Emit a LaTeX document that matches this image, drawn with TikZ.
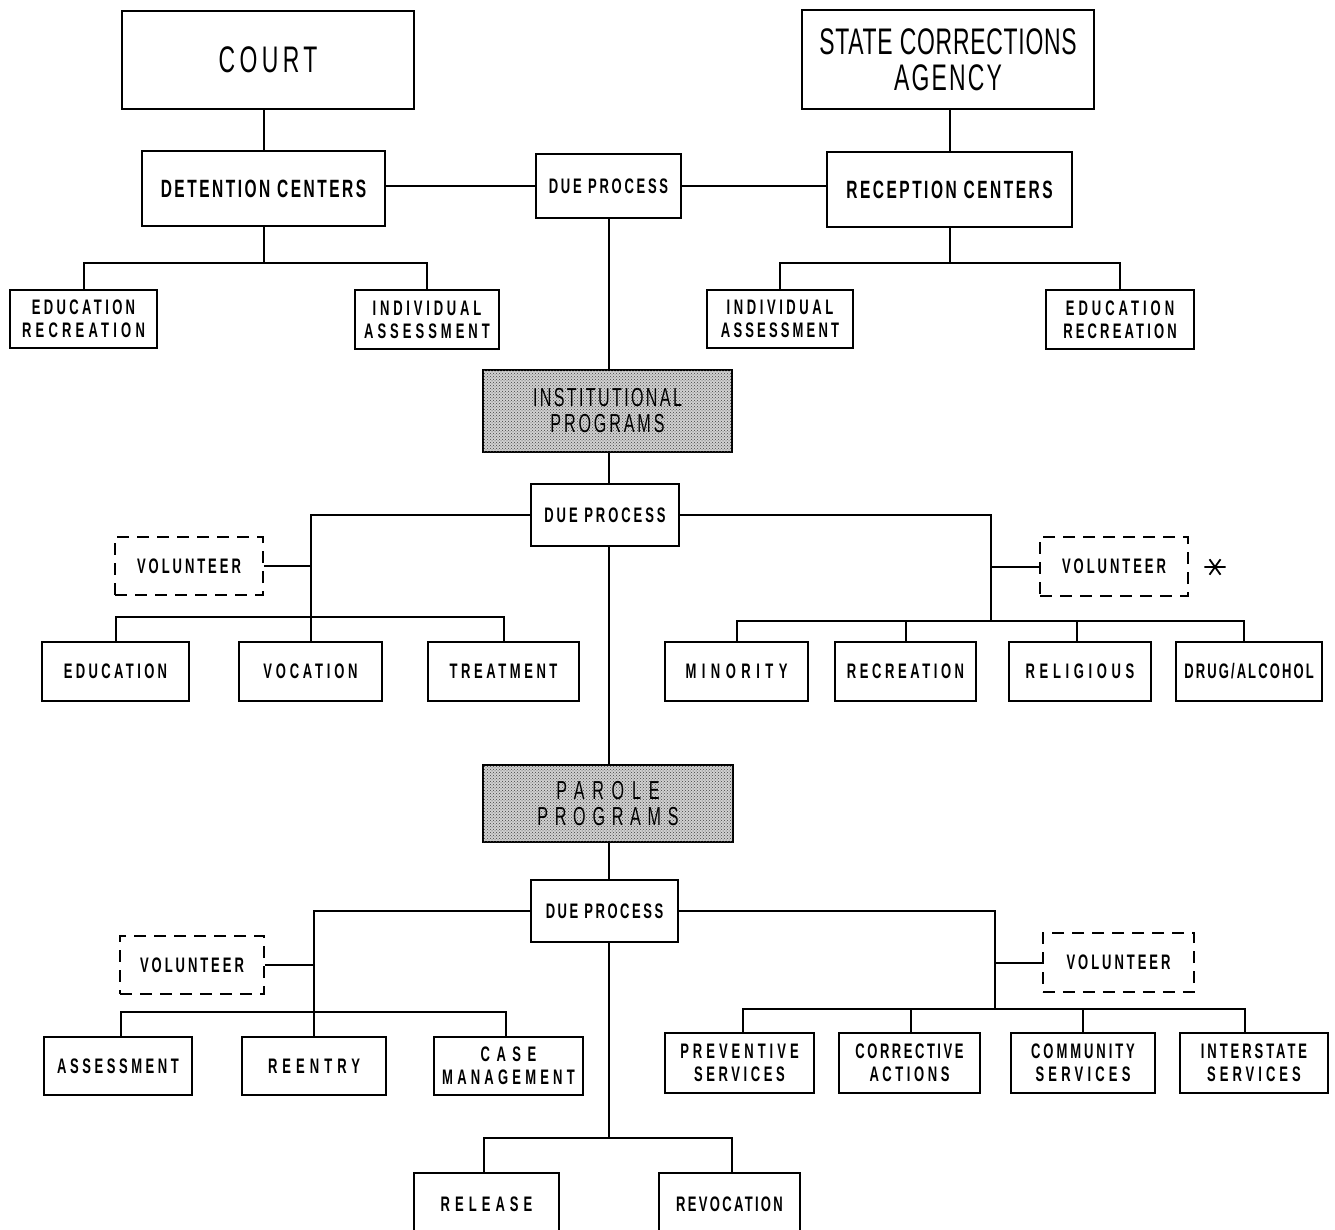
\documentclass[tikz,border=0pt]{standalone}
\usepackage{fontspec}
\usetikzlibrary{patterns}
% condensed lettering for all labels
\newfontfamily\labfont[FakeStretch=0.62]{Liberation Sans}
\newcommand\lsp[1]{\addfontfeature{LetterSpace=#1}}

\tikzset{
  box/.style={draw, line width=2.3pt, inner sep=0pt, align=center},
  bigtext/.style={font=\labfont\fontsize{37}{36}\selectfont},
  midtext/.style={font=\labfont\bfseries\fontsize{25}{26}\selectfont},
  smalltext/.style={font=\labfont\bfseries\fontsize{21}{23}\selectfont},
  shadetext/.style={font=\labfont\fontsize{26}{26}\selectfont},
  unit/.style={box, smalltext, minimum width=#1},
  volbox/.style={box, smalltext, dash pattern=on 12pt off 8pt, minimum width=#1},
  shadebox/.style={box, shadetext, fill=black!18,
    postaction={pattern=crosshatch dots, pattern color=black!75}},
  conn/.style={line width=2pt},
}

\begin{document}
\begin{tikzpicture}[x=1pt, y=-1pt]
\useasboundingbox (0,0) rectangle (1335,1230);
\fill[white] (0,0) rectangle (1335,1230);

% ---------- intake level ----------
\node[box, bigtext, minimum width=292, minimum height=98] (court) at (268,60) {\lsp{12}COURT};
\node[box, bigtext, minimum width=292, minimum height=99] (sca) at (948,59.5)
  {\lsp{2}STATE CORRECTIONS\\\lsp{6}AGENCY};
\node[box, midtext, minimum width=243, minimum height=75] (det) at (263.5,188.5) {\lsp{10}DETENTION CENTERS};
\node[box, smalltext, minimum width=145, minimum height=64] (dp1) at (608.5,186) {\lsp{13}DUE PROCESS};
\node[box, midtext, minimum width=245, minimum height=75] (rec) at (949.5,189.5) {\lsp{10}RECEPTION CENTERS};

\node[unit=147, minimum height=58] (edu1) at (83.5,319) {\lsp{16}EDUCATION\\\lsp{20}RECREATION};
\node[unit=144, minimum height=59] (ind1) at (427,319.5) {\lsp{18}INDIVIDUAL\\\lsp{19}ASSESSMENT};
\node[unit=146, minimum height=58] (ind2) at (780,319) {\lsp{17}INDIVIDUAL\\\lsp{15}ASSESSMENT};
\node[unit=148, minimum height=59] (edu2) at (1120,319.5) {\lsp{19}EDUCATION\\\lsp{15}RECREATION};

% ---------- institutional level ----------
\node[shadebox, minimum width=249, minimum height=82] (inst) at (607.5,411)
  {\lsp{9}INSTITUTIONAL\\\lsp{11}PROGRAMS};
\node[unit=148, minimum height=62] (dp2) at (605,515) {\lsp{14}DUE PROCESS};
\node[volbox=148, minimum height=58] (vol1) at (189,566) {\lsp{14}VOLUNTEER};
\node[volbox=148, minimum height=59] (vol2) at (1114,566.5) {\lsp{14}VOLUNTEER};
\node[inner sep=0pt, minimum width=21pt, minimum height=15pt] (ast) at (1215,567) {};

\node[unit=147, minimum height=59] (educ) at (115.5,671.5) {\lsp{16}EDUCATION};
\node[unit=143, minimum height=59] (voc) at (310.5,671.5) {\lsp{18}VOCATION};
\node[unit=151, minimum height=59] (treat) at (503.5,671.5) {\lsp{17}TREATMENT};
\node[unit=143, minimum height=59] (minor) at (736.5,671.5) {\lsp{26}MINORITY};
\node[unit=141, minimum height=59] (recr) at (905.5,671.5) {\lsp{17}RECREATION};
\node[unit=142, minimum height=59] (relig) at (1080,671.5) {\lsp{22}RELIGIOUS};
\node[unit=146, minimum height=59] (drug) at (1249,671.5) {\lsp{10}DRUG/ALCOHOL};

% ---------- parole level ----------
\node[shadebox, minimum width=250, minimum height=77] (parole) at (608,803.5)
  {\lsp{30}PAROLE\\\lsp{26}PROGRAMS};
\node[unit=147, minimum height=62] (dp3) at (604.5,911) {\lsp{12}DUE PROCESS};
\node[volbox=144, minimum height=58] (vol3) at (192,965) {\lsp{14}VOLUNTEER};
\node[volbox=151, minimum height=59] (vol4) at (1118.5,962.5) {\lsp{14}VOLUNTEER};

\node[unit=148, minimum height=58] (assess) at (118,1066) {\lsp{17}ASSESSMENT};
\node[unit=144, minimum height=58] (reentry) at (314,1066) {\lsp{24}REENTRY};
\node[unit=149, minimum height=58] (casem) at (508.5,1066) {\lsp{31}CASE\\\lsp{20}MANAGEMENT};
\node[unit=149, minimum height=60] (prev) at (739.5,1063) {\lsp{19}PREVENTIVE\\\lsp{17}SERVICES};
\node[unit=141, minimum height=60] (corr) at (909.5,1063) {\lsp{12}CORRECTIVE\\\lsp{17}ACTIONS};
\node[unit=144, minimum height=60] (comm) at (1083,1063) {\lsp{14}COMMUNITY\\\lsp{20}SERVICES};
\node[unit=148, minimum height=60] (inter) at (1254,1063) {\lsp{14}INTERSTATE\\\lsp{19}SERVICES};

\node[unit=145, minimum height=62] (release) at (486.5,1204) {\lsp{24}RELEASE};
\node[unit=141, minimum height=62] (revoc) at (729.5,1204) {\lsp{11}REVOCATION};

% ---------- guide coordinates for the connector rows ----------
\coordinate (tr) at (609,0);
\coordinate (r1) at (0,263);
\coordinate (r2l) at (0,617);
\coordinate (r2r) at (0,621);
\coordinate (k2) at (991,0);
\coordinate (r3l) at (0,1012);
\coordinate (r3r) at (0,1009);
\coordinate (k3) at (995,0);
\coordinate (r4) at (0,1138);

% ---------- connectors ----------
\draw[conn] (det.north) -- (det.north |- court.south);
\draw[conn] (rec.north) -- (rec.north |- sca.south);
\draw[conn] (dp1.west) -- (dp1.west -| det.east);
\draw[conn] (dp1.east) -- (dp1.east -| rec.west);
\draw[conn] (det.south) -- (det.south |- r1);
\draw[conn] (edu1.north) -- (edu1.north |- r1) -- (ind1.north |- r1) -- (ind1.north);
\draw[conn] (rec.south) -- (rec.south |- r1);
\draw[conn] (ind2.north) -- (ind2.north |- r1) -- (edu2.north |- r1) -- (edu2.north);

% main trunk
\draw[conn] (tr |- dp1.south) -- (tr |- inst.north);
\draw[conn] (tr |- inst.south) -- (tr |- dp2.north);
\draw[conn] (tr |- dp2.south) -- (tr |- parole.north);
\draw[conn] (tr |- parole.south) -- (tr |- dp3.north);
\draw[conn] (tr |- dp3.south) -- (tr |- r4);

% institutional branches
\draw[conn] (dp2.west) -| (voc.north);
\draw[conn] (vol1.east) -- (vol1.east -| voc.north);
\draw[conn] (educ.north) -- (educ.north |- r2l) -- (treat.north |- r2l) -- (treat.north);
\draw[conn] (dp2.east) -- (dp2.east -| k2) -- (k2 |- r2r);
\draw[conn] (vol2.west) -- (vol2.west -| k2);
\draw[conn] (minor.north) -- (minor.north |- r2r) -- ([xshift=-5pt]drug.north |- r2r) -- ([xshift=-5pt]drug.north);
\draw[conn] (recr.north) -- (recr.north |- r2r);
\draw[conn] ([xshift=-3pt]relig.north) -- ([xshift=-3pt]relig.north |- r2r);

% parole branches
\draw[conn] (dp3.west) -| (reentry.north);
\draw[conn] (vol3.east) -- (vol3.east -| reentry.north);
\draw[conn] ([xshift=3pt]assess.north) -- ([xshift=3pt]assess.north |- r3l) -- ([xshift=-3pt]casem.north |- r3l) -- ([xshift=-3pt]casem.north);
\draw[conn] (dp3.east) -- (dp3.east -| k3) -- (k3 |- r3r);
\draw[conn] (vol4.west) -- (vol4.west -| k3);
\draw[conn] ([xshift=3.5pt]prev.north) -- ([xshift=3.5pt]prev.north |- r3r) -- ([xshift=-9pt]inter.north |- r3r) -- ([xshift=-9pt]inter.north);
\draw[conn] ([xshift=1.5pt]corr.north) -- ([xshift=1.5pt]corr.north |- r3r);
\draw[conn] (comm.north) -- (comm.north |- r3r);

% release / revocation
\draw[conn] ([xshift=-2.5pt]release.north) -- ([xshift=-2.5pt]release.north |- r4) -- ([xshift=2.5pt]revoc.north |- r4) -- ([xshift=2.5pt]revoc.north);

% asterisk mark beside the volunteer box
\draw[line width=1.8pt] (ast.west) -- (ast.east)
  ([xshift=-5.5pt]ast.north) -- ([xshift=5.5pt]ast.south)
  ([xshift=5.5pt]ast.north) -- ([xshift=-5.5pt]ast.south);
\end{tikzpicture}
\end{document}
